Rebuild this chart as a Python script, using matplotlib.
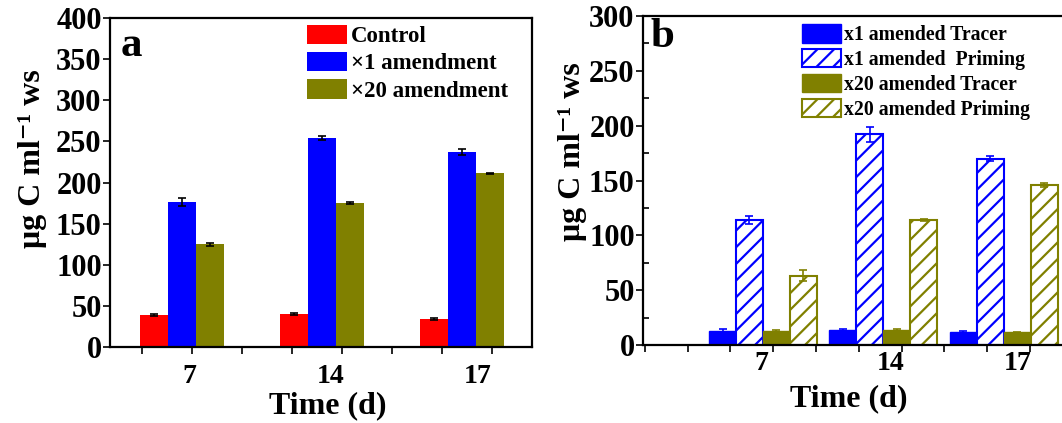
import numpy as np
import matplotlib
matplotlib.use("Agg")
import matplotlib.pyplot as plt

plt.rcParams.update({
    "font.family": ["Liberation Serif", "DejaVu Serif"],
    "font.weight": "bold",
    "axes.labelweight": "bold",
    "axes.linewidth": 1.6,
    "hatch.linewidth": 1.6,
    "xtick.major.width": 1.2,
    "ytick.major.width": 1.2,
})

# --- data ---
days = ["7", "14", "17"]

# panel a
control = [39, 40, 34]
control_err = [1.0, 1.0, 0.8]
amend_x1 = [176, 254, 237]
amend_x1_err = [5.0, 2.0, 4.0]
amend_x20 = [125, 175, 211]
amend_x20_err = [2.0, 1.0, 1.0]

# panel b
x1_tracer = [13, 14, 12]
x1_tracer_err = [1.5, 1.0, 1.0]
x1_priming = [114, 192, 170]
x1_priming_err = [4.0, 7.0, 2.0]
x20_tracer = [13, 13.5, 11.5]
x20_tracer_err = [1.0, 1.0, 0.8]
x20_priming = [63, 114, 146]
x20_priming_err = [5.0, 1.0, 2.0]

RED = "#FF0000"
BLUE = "#0000FF"
OLIVE = "#808000"
YLABEL = "\u03bcg C ml\u207b\u00b9 ws"

fig = plt.figure(figsize=(10.62, 4.23), dpi=100)
W, H = 1062.0, 423.0

def px_axes(left, top, right, bottom):
    return fig.add_axes([left / W, 1 - bottom / H, (right - left) / W, (bottom - top) / H])

# ================= panel a =================
ax = px_axes(110, 18, 532, 347)
x = np.arange(len(days))
w = 0.2
ekw = dict(ecolor="black", elinewidth=1.2, capsize=3, capthick=1.2)
ax.bar(x - w, control, w, color=RED, yerr=control_err, error_kw=ekw, label="Control")
ax.bar(x, amend_x1, w, color=BLUE, yerr=amend_x1_err, error_kw=ekw, label="\u00d71 amendment")
ax.bar(x + w, amend_x20, w, color=OLIVE, yerr=amend_x20_err, error_kw=ekw, label="\u00d720 amendment")

ax.set_xlim(-0.514, 2.5)
ax.set_ylim(0, 400)
ax.set_yticks(np.arange(0, 401, 50))
ax.set_xticks([0.05, 1.06, 2.11])
ax.set_xticklabels(days)
ax.tick_params(axis="x", which="major", length=0, pad=12, labelsize=20)
ax.set_xticks(np.arange(-0.288, 2.5, 0.357), minor=True)
ax.tick_params(axis="x", which="minor", length=5, width=1.2, direction="out")
ax.tick_params(axis="y", which="major", length=5, direction="out", labelsize=22, pad=1)
for t in ax.get_xticklabels() + ax.get_yticklabels():
    t.set_fontweight("bold")

ax.set_ylabel(YLABEL, fontsize=23)
ax.yaxis.set_label_coords(-0.15, 0.574)
ax.set_xlabel("Time (d)", fontsize=23)
ax.xaxis.set_label_coords(0.516, -0.133)
ax.text(0.025, 0.885, "a", transform=ax.transAxes, fontsize=31, fontweight="bold")

ax.legend(loc="upper left", bbox_to_anchor=(0.467, 0.98), frameon=False,
          fontsize=16.5, handlelength=1.75, handleheight=0.9, handletextpad=0.15,
          labelspacing=0.22, borderpad=0, borderaxespad=0)

# ================= panel b =================
bx = px_axes(643, 16, 1075, 345)
w = 0.224
ekb = dict(elinewidth=1.2, capsize=3, capthick=1.2)
bx.bar(x - 1.5 * w, x1_tracer, w, color=BLUE, edgecolor=BLUE, yerr=x1_tracer_err,
       error_kw=dict(ecolor=BLUE, **ekb), label="x1 amended Tracer")
bx.bar(x - 0.5 * w, x1_priming, w, color="white", edgecolor=BLUE, hatch="//", linewidth=1.5,
       yerr=x1_priming_err, error_kw=dict(ecolor=BLUE, **ekb), label="x1 amended  Priming")
bx.bar(x + 0.5 * w, x20_tracer, w, color=OLIVE, edgecolor=OLIVE, yerr=x20_tracer_err,
       error_kw=dict(ecolor=OLIVE, **ekb), label="x20 amended Tracer")
bx.bar(x + 1.5 * w, x20_priming, w, color="white", edgecolor=OLIVE, hatch="//", linewidth=1.5,
       yerr=x20_priming_err, error_kw=dict(ecolor=OLIVE, **ekb), label="x20 amended Priming")

bx.set_xlim(-0.996, 2.59)
bx.set_ylim(0, 300)
bx.set_yticks(np.arange(0, 301, 50))
bx.set_yticks(np.arange(25, 300, 50), minor=True)
bx.set_xticks([-0.01, 1.06, 2.11])
bx.set_xticklabels(days)
bx.tick_params(axis="x", which="major", length=0, pad=4, labelsize=20)
bx.set_xticks(np.arange(-0.98, 2.59, 0.355), minor=True)
bx.tick_params(axis="x", which="minor", length=5, width=1.2, direction="out")
bx.tick_params(axis="y", which="major", length=5, direction="out", labelsize=22, pad=1)
bx.tick_params(axis="y", which="minor", length=4, width=1.2, direction="in")
for t in bx.get_xticklabels() + bx.get_yticklabels():
    t.set_fontweight("bold")

bx.set_ylabel(YLABEL, fontsize=23)
bx.yaxis.set_label_coords(-0.13, 0.587)
bx.set_xlabel("Time (d)", fontsize=23)
bx.xaxis.set_label_coords(0.477, -0.12)
bx.text(0.018, 0.905, "b", transform=bx.transAxes, fontsize=31, fontweight="bold")

bx.legend(loc="upper left", bbox_to_anchor=(0.368, 0.975), frameon=False,
          fontsize=14.2, handlelength=2.0, handleheight=1.05, handletextpad=0.15,
          labelspacing=0.2, borderpad=0, borderaxespad=0)

fig.savefig("out.png", dpi=100)
